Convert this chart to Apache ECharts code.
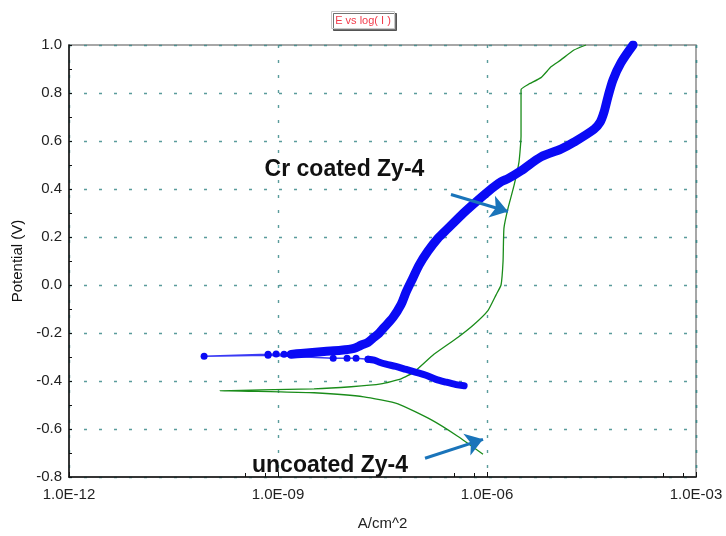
<!DOCTYPE html>
<html>
<head>
<meta charset="utf-8">
<script src="https://cdn.jsdelivr.net/npm/echarts@6/dist/echarts.min.js"></script>
<style>
  html, body { margin: 0; padding: 0; background: #fff; }
  #chart { width: 726px; height: 536px; }
</style>
</head>
<body>
<div id="chart"></div>
<script>
// Potentiodynamic polarization: current density (A/cm^2) vs potential (V)

// Cr coated Zy-4 — cathodic branch (dense scan points)
const crCathodicI = [4.7e-7, 3.6e-7, 2.6e-7, 1.85e-7, 1.33e-7, 9.6e-8, 6.9e-8, 4.9e-8, 3.55e-8, 2.8e-8, 2.4e-8, 1.96e-8];
const crCathodicE = [-0.42, -0.415, -0.405, -0.393, -0.376, -0.364, -0.352, -0.339, -0.330, -0.321, -0.313, -0.309];

// Cr coated Zy-4 — sparse readings around the corrosion potential
const crEcorrI = [1.96e-8, 1.32e-8, 9.8e-9, 6.2e-9, 7.2e-10, 8.7e-11, 7.2e-10, 9.4e-10, 1.22e-9, 1.54e-9];
const crEcorrE = [-0.309, -0.305, -0.305, -0.305, -0.293, -0.297, -0.289, -0.287, -0.289, -0.289];

// Cr coated Zy-4 — anodic branch (dense scan points)
const crAnodicI = [1.54e-9, 2.14e-9, 4.57e-9, 8.0e-9, 1.23e-8, 1.55e-8, 1.96e-8, 2.39e-8, 2.82e-8, 3.33e-8,
  4.48e-8, 5.83e-8, 6.87e-8, 8.67e-8, 1.06e-7, 1.42e-7, 1.98e-7, 2.75e-7, 4.24e-7, 6.5e-7,
  1.03e-6, 1.59e-6, 2.0e-6, 3.08e-6, 5.96e-6, 1.15e-5, 1.77e-5, 3.44e-5, 4.2e-5, 4.77e-5,
  5.46e-5, 6.44e-5, 8.37e-5, 1.25e-4];
const crAnodicE = [-0.289, -0.285, -0.277, -0.272, -0.264, -0.251, -0.239, -0.218, -0.201, -0.177,
  -0.135, -0.082, -0.031, 0.030, 0.083, 0.141, 0.195, 0.236, 0.290, 0.339,
  0.389, 0.430, 0.443, 0.476, 0.534, 0.566, 0.595, 0.649, 0.678, 0.719,
  0.785, 0.855, 0.926, 1.0];

// Uncoated Zy-4 — full scan, cathodic end to anodic end
const unI = [8.77e-7, 3.84e-7, 1.57e-7, 5.27e-8, 1.71e-8, 3.29e-9, 1.1e-9, 1.47e-10,
  5.7e-10, 3.29e-9, 1.12e-8, 3.0e-8, 5.83e-8, 8.95e-8, 1.73e-7, 3.84e-7, 6.5e-7, 1.03e-6,
  1.35e-6, 1.59e-6, 1.70e-6, 1.75e-6, 2.0e-6, 2.44e-6, 2.88e-6, 3.08e-6, 3.08e-6, 3.87e-6,
  5.96e-6, 8.3e-6, 1.15e-5, 1.77e-5, 2.64e-5];
const unE = [-0.705, -0.631, -0.561, -0.495, -0.466, -0.449, -0.445, -0.441,
  -0.437, -0.433, -0.424, -0.412, -0.391, -0.363, -0.289, -0.218, -0.165, -0.107,
  -0.041, 0.0, 0.099, 0.236, 0.319, 0.414, 0.513, 0.620, 0.814, 0.835,
  0.864, 0.909, 0.938, 0.979, 1.0];

// Axis ticks
const xTickValues = [1e-12, 1e-9, 1e-6, 1e-3];
const yTickValues = [-0.8, -0.6, -0.4, -0.2, 0.0, 0.2, 0.4, 0.6, 0.8, 1.0];

// Callout text and arrows (in data coordinates)
const crLabel = { text: 'Cr coated Zy-4', at: [9.0e-9, 0.48] };
const crArrow = { from: [3.04e-7, 0.377], to: [2.0e-6, 0.306] };
const unLabel = { text: 'uncoated Zy-4', at: [5.57e-9, -0.751] };
const unArrow = { from: [1.29e-7, -0.722], to: [8.77e-7, -0.643] };

const zip = (a, b) => a.map((v, i) => [v, b[i]]);

const BLUE = '#0a0af5';
const GREEN = '#1a8c1a';
const ARROW = '#1a74ba';
const GRIDC = '#3d8b8b';
const FONT = 'Liberation Sans, Arial, sans-serif';

function sciLabel(v) {
  const e = Math.round(Math.log10(v));
  const mag = Math.abs(e);
  return '1.0E' + (e < 0 ? '-' : '+') + (mag < 10 ? '0' + mag : '' + mag);
}

const chart = echarts.init(document.getElementById('chart'), null, { renderer: 'canvas' });

const calloutLabel = {
  show: true,
  position: 'inside',
  color: '#111',
  fontFamily: FONT,
  fontWeight: 'bold',
  fontSize: 23
};

const gridLine = { show: true, lineStyle: { color: GRIDC, type: [3, 12], width: 1.4, opacity: 0.85 } };

chart.setOption({
  animation: false,
  backgroundColor: '#fff',
  title: {
    text: 'E vs log( I )',
    left: 'center',
    top: 11,
    padding: [4, 4, 3, 4],
    borderColor: '#c8c8c8',
    borderWidth: 1,
    backgroundColor: '#fff',
    shadowColor: 'rgba(0,0,0,0.55)',
    shadowOffsetX: 2,
    shadowOffsetY: 2,
    shadowBlur: 0,
    textStyle: {
      color: '#f23a4a',
      fontFamily: FONT,
      fontSize: 11,
      fontWeight: 'normal'
    }
  },
  grid: {
    left: 69, right: 30, top: 45, bottom: 55,
    show: true,
    borderColor: '#8a8a8a',
    borderWidth: 1.5,
    backgroundColor: 'transparent'
  },
  xAxis: {
    type: 'log',
    logBase: 10,
    min: xTickValues[0],
    max: xTickValues[xTickValues.length - 1],
    interval: 3,
    name: 'A/cm^2',
    nameLocation: 'middle',
    nameGap: 39,
    nameTextStyle: { color: '#222', fontSize: 15, fontFamily: FONT },
    axisLine: { show: true, onZero: false, lineStyle: { color: '#111', width: 1.5 } },
    axisTick: { show: true, inside: true, length: 5, lineStyle: { color: '#111' } },
    minorTick: { show: true, splitNumber: 3, length: 4, lineStyle: { color: '#111' } },
    axisLabel: {
      margin: 10,
      color: '#222',
      fontSize: 15,
      fontFamily: FONT,
      formatter: sciLabel
    },
    splitLine: gridLine
  },
  yAxis: {
    type: 'value',
    min: yTickValues[0],
    max: yTickValues[yTickValues.length - 1],
    interval: 0.2,
    name: 'Potential (V)',
    nameLocation: 'middle',
    nameGap: 44,
    nameTextStyle: { color: '#111', fontSize: 15, fontFamily: FONT },
    axisLine: { show: true, onZero: false, lineStyle: { color: '#111', width: 1.5 } },
    axisTick: { show: true, inside: true, length: 3, lineStyle: { color: '#111' } },
    minorTick: { show: true, splitNumber: 2, length: 3, lineStyle: { color: '#111' } },
    axisLabel: {
      margin: 7,
      color: '#222',
      fontSize: 15,
      fontFamily: FONT,
      formatter: v => v.toFixed(1)
    },
    splitLine: gridLine
  },
  series: [
    {
      name: 'uncoated Zy-4',
      type: 'line',
      data: zip(unI, unE),
      showSymbol: false,
      smooth: 0.15,
      lineStyle: { color: GREEN, width: 1.3 },
      z: 2,
      markLine: {
        silent: true,
        symbol: ['none', 'arrow'],
        symbolSize: 17,
        lineStyle: { color: ARROW, width: 3, type: 'solid' },
        label: { show: false },
        data: [
          [{ coord: crArrow.from }, { coord: crArrow.to }],
          [{ coord: unArrow.from }, { coord: unArrow.to }]
        ]
      },
      markPoint: {
        silent: true,
        symbol: 'circle',
        symbolSize: 0,
        data: [
          { coord: crLabel.at, value: crLabel.text, label: Object.assign({ formatter: crLabel.text }, calloutLabel) },
          { coord: unLabel.at, value: unLabel.text, label: Object.assign({ formatter: unLabel.text }, calloutLabel) }
        ]
      }
    },
    {
      name: 'Cr coated Zy-4',
      type: 'line',
      data: zip(crCathodicI, crCathodicE),
      showSymbol: false,
      smooth: 0.3,
      lineStyle: { color: BLUE, width: 7, cap: 'round', join: 'round' },
      z: 3
    },
    {
      name: 'Cr coated Zy-4',
      type: 'line',
      data: zip(crEcorrI, crEcorrE),
      symbol: 'circle',
      symbolSize: 7,
      showAllSymbol: true,
      itemStyle: { color: BLUE },
      lineStyle: { color: '#3a3af5', width: 1.5 },
      z: 3
    },
    {
      name: 'Cr coated Zy-4',
      type: 'line',
      data: zip(crAnodicI, crAnodicE),
      showSymbol: false,
      smooth: 0.3,
      lineStyle: { color: BLUE, width: 9, cap: 'round', join: 'round' },
      z: 3
    }
  ]
});
</script>
</body>
</html>
